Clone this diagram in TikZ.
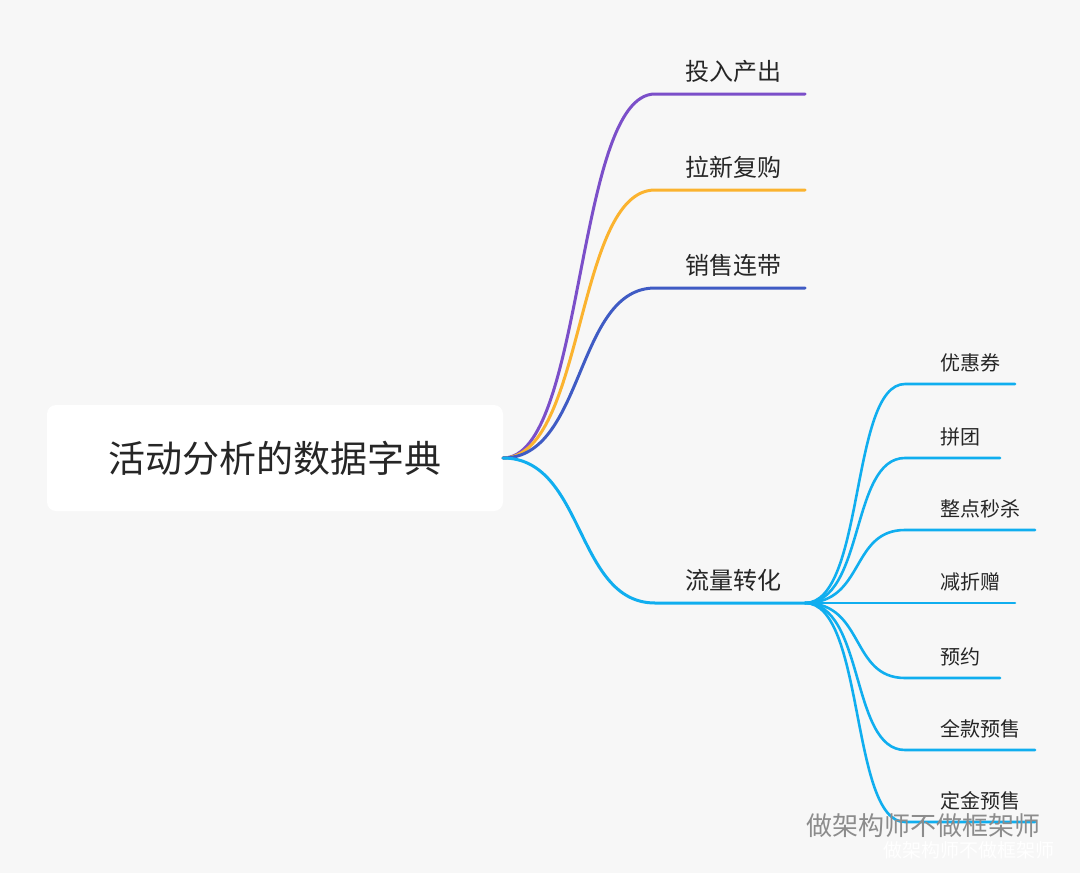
\documentclass[tikz,border=0pt]{standalone}
\usepackage{fontspec}
\setmainfont{Noto Sans CJK SC}
\begin{document}
\begin{tikzpicture}[x=1pt,y=-1pt,
 br/.style={line width=3pt,line cap=round},
 sb/.style={line width=2.6pt,color=cy,line cap=round},
 lab/.style={font=\fontsize{24}{28}\selectfont,text=black!85,anchor=base},
 slab/.style={font=\fontsize{20}{23}\selectfont,text=black!85,anchor=base}]
\definecolor{bg}{HTML}{F7F7F7}
\definecolor{pu}{HTML}{7B4FC9}
\definecolor{or}{HTML}{FBB32F}
\definecolor{db}{HTML}{3F5BC4}
\definecolor{cy}{HTML}{10AEEF}
\fill[bg] (0,0) rectangle (1080,873);
\useasboundingbox (0,0) rectangle (1080,873);
\node[fill=white,rounded corners=9pt,minimum width=456pt,minimum height=106pt,font=\fontsize{37}{44}\selectfont,text=black!85] (root) at (275,458) {活动分析的数据字典};
\coordinate (r) at (503,458);
\foreach \y/\c/\t/\n in {94/pu/投入产出/a,190/or/拉新复购/b,288/db/销售连带/c,603/cy/流量转化/d}{
 \coordinate (s\n) at (655,\y);
 \coordinate (e\n) at (805,\y);
 \draw[br,\c] (r) .. controls (585,458) and (575,\y) .. (s\n) -- (e\n);
 \node[lab] (l\n) at (733,\y-14) {\t};
}
\foreach \y/\x/\t/\n in {384/1015/优惠券/a,458/1000/拼团/b,530/1035/整点秒杀/c,603/1015/减折赠/d,678/1000/预约/e,750/1035/全款预售/f,822/1035/定金预售/g}{
 \coordinate (t\n) at (905,\y);
 \coordinate (u\n) at (\x,\y);
 \draw[sb] (ed) .. controls (865,603) and (850,\y) .. (t\n) -- (u\n);
 \node[slab,anchor=base west] (m\n) at (937,\y-14) {\t};
}
\node[font=\fontsize{26}{30}\selectfont,text=black!45,anchor=base west] (w1) at (803,835) {做架构师不做框架师};
\node[font=\fontsize{19}{22}\selectfont,text=white,anchor=base west] (w2) at (880,857) {做架构师不做框架师};
\end{tikzpicture}
\end{document}
